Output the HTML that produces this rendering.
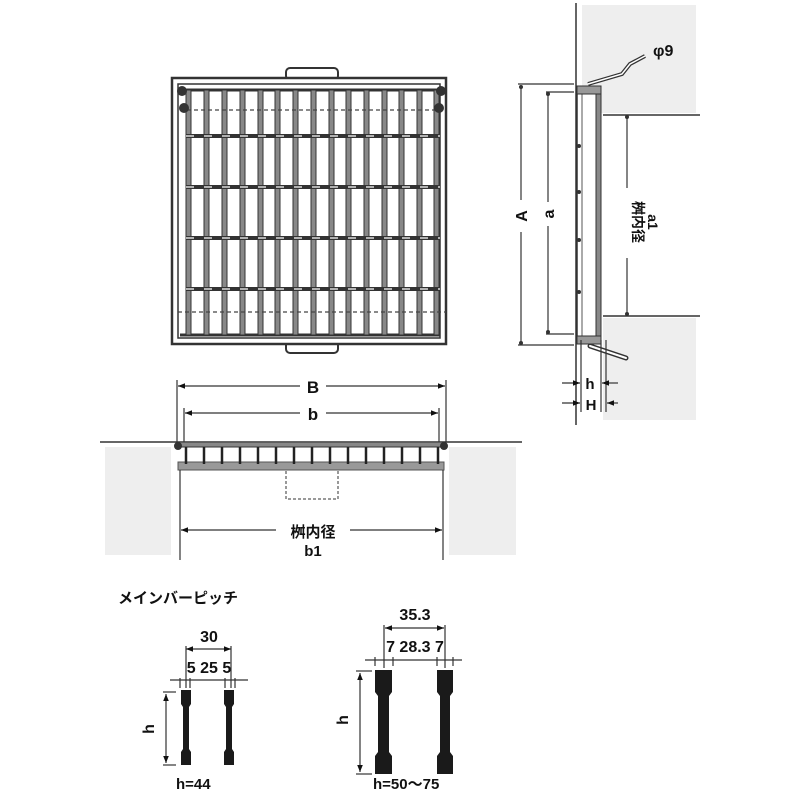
<!DOCTYPE html>
<html><head><meta charset="utf-8"><style>
html,body{margin:0;padding:0;background:#fff;}
svg{display:block;}
text{font-family:"Liberation Sans","Noto Sans CJK JP",sans-serif;font-weight:bold;fill:#111;}
</style></head><body>
<svg width="800" height="800" viewBox="0 0 800 800" xmlns="http://www.w3.org/2000/svg">
<defs>
<marker id="ar" viewBox="0 0 10 10" refX="10" refY="5" markerWidth="6" markerHeight="6" orient="auto-start-reverse"><path d="M0,1 L10,5 L0,9z" fill="#111"/></marker>
</defs>
<!-- TOP VIEW -->
<g stroke="#333" fill="none">
<rect x="286" y="68" width="52" height="12" rx="4" stroke-width="2"/>
<rect x="286" y="340" width="52" height="13" rx="4" stroke-width="2"/>
<rect x="172" y="78" width="274" height="266" stroke-width="2.5" fill="#fff"/>
<rect x="178" y="84" width="262" height="254" stroke-width="1.5"/>
<line x1="180" y1="90" x2="440" y2="90" stroke-width="3"/>
<line x1="180" y1="335" x2="440" y2="335" stroke-width="3"/>
</g>
<g fill="#888" stroke="#333" stroke-width="1">
<rect x="186" y="90" width="5" height="245"/><rect x="204" y="90" width="5" height="245"/><rect x="222" y="90" width="5" height="245"/><rect x="240" y="90" width="5" height="245"/><rect x="258" y="90" width="5" height="245"/><rect x="275" y="90" width="5" height="245"/><rect x="293" y="90" width="5" height="245"/><rect x="311" y="90" width="5" height="245"/><rect x="329" y="90" width="5" height="245"/><rect x="346" y="90" width="5" height="245"/><rect x="364" y="90" width="5" height="245"/><rect x="382" y="90" width="5" height="245"/><rect x="399" y="90" width="5" height="245"/><rect x="417" y="90" width="5" height="245"/><rect x="434" y="90" width="5" height="245"/>
</g>
<g stroke="#333" stroke-width="4">
<line x1="186" y1="136" x2="440" y2="136"/><line x1="186" y1="187" x2="440" y2="187"/><line x1="186" y1="238" x2="440" y2="238"/><line x1="186" y1="289" x2="440" y2="289"/>
</g>
<g stroke="#fff" stroke-width="1.2" stroke-dasharray="8 10">
<line x1="186" y1="136" x2="440" y2="136"/><line x1="186" y1="187" x2="440" y2="187"/><line x1="186" y1="238" x2="440" y2="238"/><line x1="186" y1="289" x2="440" y2="289"/>
</g>
<g stroke="#444" stroke-width="1.2" stroke-dasharray="4 3"><line x1="180" y1="110" x2="444" y2="110"/><line x1="178" y1="312" x2="446" y2="312"/></g>
<g fill="#333"><circle cx="182" cy="91" r="5"/><circle cx="441" cy="91" r="5"/><circle cx="184" cy="108" r="5"/><circle cx="439" cy="108" r="5"/></g>

<!-- FRONT VIEW -->
<rect x="105" y="447" width="66" height="108" fill="#eee"/>
<rect x="449" y="447" width="67" height="108" fill="#eee"/>
<line x1="100" y1="442" x2="522" y2="442" stroke="#333" stroke-width="1.5"/>
<rect x="176" y="442" width="270" height="5" fill="#888" stroke="#333"/>
<rect x="178" y="462" width="266" height="8" fill="#999" stroke="#555"/>
<g stroke="#222" stroke-width="2.5">
<line x1="186" y1="447" x2="186" y2="464"/><line x1="204" y1="447" x2="204" y2="464"/><line x1="222" y1="447" x2="222" y2="464"/><line x1="240" y1="447" x2="240" y2="464"/><line x1="258" y1="447" x2="258" y2="464"/><line x1="276" y1="447" x2="276" y2="464"/><line x1="294" y1="447" x2="294" y2="464"/><line x1="312" y1="447" x2="312" y2="464"/><line x1="330" y1="447" x2="330" y2="464"/><line x1="348" y1="447" x2="348" y2="464"/><line x1="366" y1="447" x2="366" y2="464"/><line x1="384" y1="447" x2="384" y2="464"/><line x1="402" y1="447" x2="402" y2="464"/><line x1="420" y1="447" x2="420" y2="464"/><line x1="438" y1="447" x2="438" y2="464"/>
</g>
<g fill="#333"><circle cx="178" cy="446" r="4"/><circle cx="444" cy="446" r="4"/></g>
<path d="M286,471 V499 H338 V471" fill="none" stroke="#999" stroke-width="2" stroke-dasharray="3 2"/>
<g stroke="#333" stroke-width="1.2" fill="none">
<line x1="177" y1="380" x2="177" y2="442"/><line x1="446" y1="380" x2="446" y2="442"/>
<line x1="184" y1="408" x2="184" y2="442"/><line x1="439" y1="408" x2="439" y2="442"/>
<line x1="180" y1="470" x2="180" y2="560"/><line x1="443" y1="470" x2="443" y2="560"/>
<line x1="178" y1="386" x2="300" y2="386" marker-start="url(#ar)"/><line x1="326" y1="386" x2="445" y2="386" marker-end="url(#ar)"/>
<line x1="185" y1="413" x2="300" y2="413" marker-start="url(#ar)"/><line x1="326" y1="413" x2="438" y2="413" marker-end="url(#ar)"/>
<line x1="181" y1="530" x2="276" y2="530" marker-start="url(#ar)"/><line x1="350" y1="530" x2="442" y2="530" marker-end="url(#ar)"/>
</g>
<text x="313" y="393" font-size="17" text-anchor="middle">B</text>
<text x="313" y="420" font-size="17" text-anchor="middle">b</text>
<text x="313" y="537" font-size="15" text-anchor="middle">桝内径</text>
<text x="313" y="556" font-size="15" text-anchor="middle">b1</text>

<!-- SIDE VIEW -->
<rect x="582" y="5" width="114" height="108" fill="#eee"/>
<rect x="603" y="318" width="93" height="102" fill="#eee"/>
<line x1="576" y1="3" x2="576" y2="425" stroke="#333" stroke-width="1.5"/>
<line x1="603" y1="115" x2="700" y2="115" stroke="#333" stroke-width="1.5"/>
<line x1="603" y1="316" x2="700" y2="316" stroke="#333" stroke-width="1.5"/>
<rect x="577" y="87" width="22" height="253" fill="#fff" stroke="#333" stroke-width="1.5"/>
<rect x="596" y="87" width="5" height="253" fill="#888" stroke="#333"/>
<line x1="582" y1="90" x2="582" y2="337" stroke="#555"/>
<rect x="577" y="86" width="24" height="8" fill="#999" stroke="#333"/>
<rect x="577" y="336" width="24" height="8" fill="#999" stroke="#333"/>
<g fill="#333"><circle cx="579" cy="146" r="2"/><circle cx="579" cy="192" r="2"/><circle cx="579" cy="240" r="2"/><circle cx="579" cy="292" r="2"/></g>
<path d="M588,84 L622,74 L630,64 L645,56" fill="none" stroke="#333" stroke-width="4"/>
<path d="M588,84 L622,74 L630,64 L645,56" fill="none" stroke="#fff" stroke-width="1.5"/>
<path d="M590,346 L626,358" stroke="#333" stroke-width="5" stroke-linecap="round"/>
<path d="M590,346 L626,358" stroke="#fff" stroke-width="2" stroke-linecap="round"/>
<text x="653" y="56" font-size="16">φ9</text>
<g stroke="#333" stroke-width="1.2" fill="none">
<line x1="518" y1="84" x2="574" y2="84"/><line x1="518" y1="345" x2="574" y2="345"/>
<line x1="546" y1="92" x2="574" y2="92"/><line x1="546" y1="334" x2="574" y2="334"/>
<line x1="521" y1="86" x2="521" y2="200"/><line x1="521" y1="232" x2="521" y2="343"/>
<line x1="548" y1="94" x2="548" y2="202"/><line x1="548" y1="226" x2="548" y2="332"/>
<line x1="627" y1="117" x2="627" y2="188"/><line x1="627" y1="258" x2="627" y2="314"/>
<line x1="581" y1="340" x2="581" y2="412"/><line x1="601" y1="340" x2="601" y2="412"/><line x1="606" y1="340" x2="606" y2="412"/>
<line x1="562" y1="383" x2="580" y2="383" marker-end="url(#ar)"/><line x1="618" y1="383" x2="602" y2="383" marker-end="url(#ar)"/>
<line x1="562" y1="403" x2="580" y2="403" marker-end="url(#ar)"/><line x1="618" y1="403" x2="607" y2="403" marker-end="url(#ar)"/>
</g>
<g fill="#333"><circle cx="521" cy="87" r="2"/><circle cx="521" cy="343" r="2"/><circle cx="548" cy="94" r="2"/><circle cx="548" cy="332" r="2"/><circle cx="627" cy="117" r="2"/><circle cx="627" cy="314" r="2"/></g>
<text transform="translate(527,216) rotate(-90)" font-size="16" text-anchor="middle">A</text>
<text transform="translate(554,214) rotate(-90)" font-size="16" text-anchor="middle">a</text>
<text transform="translate(633,222) rotate(90)" font-size="14" text-anchor="middle">桝内径</text>
<text transform="translate(648,222) rotate(90)" font-size="14" text-anchor="middle">a1</text>
<text x="590" y="389" font-size="15" text-anchor="middle">h</text>
<text x="591" y="410" font-size="15" text-anchor="middle">H</text>

<!-- PITCH DETAILS -->
<text x="118" y="603" font-size="15">メインバーピッチ</text>
<text x="209" y="642" font-size="16" text-anchor="middle">30</text>
<text x="209" y="673" font-size="16" text-anchor="middle">5 25 5</text>
<g stroke="#333" stroke-width="1.2" fill="none">
<line x1="186" y1="649" x2="231" y2="649" marker-start="url(#ar)" marker-end="url(#ar)"/>
<line x1="170" y1="680" x2="248" y2="680"/>
<line x1="186" y1="646" x2="186" y2="688"/><line x1="231" y1="646" x2="231" y2="688"/>
<line x1="180" y1="678" x2="180" y2="688"/><line x1="190" y1="678" x2="190" y2="688"/><line x1="225" y1="678" x2="225" y2="688"/><line x1="235" y1="678" x2="235" y2="688"/>
<line x1="163" y1="692" x2="176" y2="692"/><line x1="163" y1="765" x2="176" y2="765"/>
<line x1="166" y1="694" x2="166" y2="763" marker-start="url(#ar)" marker-end="url(#ar)"/>
<line x1="385" y1="628" x2="444" y2="628" marker-start="url(#ar)" marker-end="url(#ar)"/>
<line x1="365" y1="660" x2="462" y2="660"/>
<line x1="384" y1="625" x2="384" y2="668"/><line x1="445" y1="625" x2="445" y2="668"/>
<line x1="375" y1="657" x2="375" y2="666"/><line x1="393" y1="657" x2="393" y2="666"/><line x1="437" y1="657" x2="437" y2="666"/><line x1="453" y1="657" x2="453" y2="666"/>
<line x1="356" y1="671" x2="372" y2="671"/><line x1="356" y1="774" x2="372" y2="774"/>
<line x1="360" y1="673" x2="360" y2="772" marker-start="url(#ar)" marker-end="url(#ar)"/>
</g>
<g fill="#1a1a1a">
<path d="M181,690 h10 v14 l-2,3 v42 l2,3 v13 h-10 v-13 l2,-3 v-42 l-2,-3z"/>
<path d="M224,690 h10 v14 l-2,3 v42 l2,3 v13 h-10 v-13 l2,-3 v-42 l-2,-3z"/>
<path d="M375,670 h17 v22 l-3,4 v56 l3,4 v18 h-17 v-18 l3,-4 v-56 l-3,-4z"/>
<path d="M437,670 h16 v22 l-3,4 v56 l3,4 v18 h-16 v-18 l3,-4 v-56 l-3,-4z"/>
</g>
<text transform="translate(154,729) rotate(-90)" font-size="16" text-anchor="middle">h</text>
<text transform="translate(348,720) rotate(-90)" font-size="16" text-anchor="middle">h</text>
<text x="176" y="789" font-size="15">h=44</text>
<text x="373" y="789" font-size="15">h=50〜75</text>
<text x="415" y="620" font-size="16" text-anchor="middle">35.3</text>
<text x="415" y="652" font-size="16" text-anchor="middle">7 28.3 7</text>
</svg>
</body></html>
